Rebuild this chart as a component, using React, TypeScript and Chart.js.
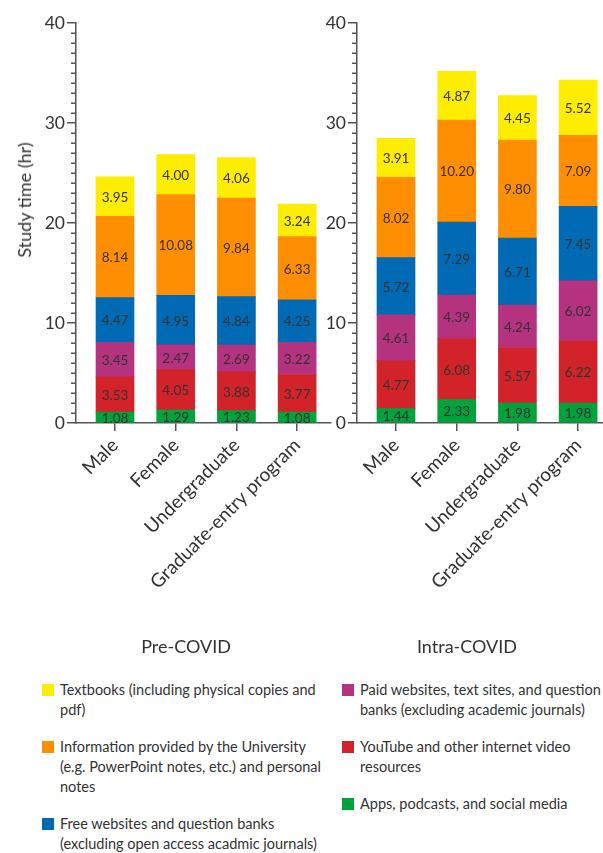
import React, { useEffect, useRef } from "react";
import { Chart, registerables } from "chart.js";

Chart.register(...registerables);

// ---------- data ----------
const categories = ["Male", "Female", "Undergraduate", "Graduate-entry program"];

// series, bottom of stack to top
const seriesNames = [
  "Apps, podcasts, and social media",
  "YouTube and other internet video\nresources",
  "Paid websites, text sites, and question\nbanks (excluding academic journals)",
  "Free websites and question banks\n(excluding open access acadmic journals)",
  "Information provided by the University\n(e.g. PowerPoint notes, etc.) and personal\nnotes",
  "Textbooks (including physical copies and\npdf)",
];
const seriesColors = ["#00A23C", "#D2232A", "#B5327F", "#006AB5", "#FF8F00", "#FFED00"];

const preApps = [1.08, 1.29, 1.23, 1.08];
const preYouTube = [3.53, 4.05, 3.88, 3.77];
const prePaid = [3.45, 2.47, 2.69, 3.22];
const preFree = [4.47, 4.95, 4.84, 4.25];
const preInfo = [8.14, 10.08, 9.84, 6.33];
const preTextbooks = [3.95, 4.0, 4.06, 3.24];

const intraApps = [1.44, 2.33, 1.98, 1.98];
const intraYouTube = [4.77, 6.08, 5.57, 6.22];
const intraPaid = [4.61, 4.39, 4.24, 6.02];
const intraFree = [5.72, 7.29, 6.71, 7.45];
const intraInfo = [8.02, 10.2, 9.8, 7.09];
const intraTextbooks = [3.91, 4.87, 4.45, 5.52];

const preSeries = [preApps, preYouTube, prePaid, preFree, preInfo, preTextbooks];
const intraSeries = [intraApps, intraYouTube, intraPaid, intraFree, intraInfo, intraTextbooks];

const yMin = 0;
const yMax = 40;
const yMajorStep = 10;
const yMinorStep = 1;

const panelTitles = ["Pre-COVID", "Intra-COVID"];
const yAxisTitle = "Study time (hr)";

// legend layout: left column then right column (indices into series)
const legendLeft = [5, 4, 3];
const legendRight = [2, 1, 0];

// ---------- styles ----------
const FONT = "Lato, 'Open Sans', sans-serif";
const TEXT = "#333333";
const AXIS = "#555555";
const CANVAS_H = 640;
const PLOT_TOP = 23;
const PLOT_BOTTOM = 423;

const minorTicksPlugin = {
  id: "minorTicks",
  afterDraw(chart: any) {
    const y = chart.scales.y;
    const ctx = chart.ctx;
    ctx.save();
    ctx.strokeStyle = AXIS;
    ctx.lineWidth = 1.5;
    for (let v = yMin; v <= yMax; v += yMinorStep) {
      if (v % yMajorStep === 0) continue;
      const py = Math.round(y.getPixelForValue(v)) + 0.25;
      ctx.beginPath();
      ctx.moveTo(y.right - 5, py);
      ctx.lineTo(y.right, py);
      ctx.stroke();
    }
    ctx.restore();
  },
};

const valueLabelPlugin = {
  id: "valueLabels",
  afterDatasetsDraw(chart: any) {
    const ctx = chart.ctx;
    ctx.save();
    ctx.font = `13.5px ${FONT}`;
    ctx.fillStyle = TEXT;
    ctx.textAlign = "center";
    ctx.textBaseline = "middle";
    chart.data.datasets.forEach((ds: any, i: number) => {
      const meta = chart.getDatasetMeta(i);
      meta.data.forEach((el: any, j: number) => {
        const p = el.getProps(["x", "y", "base"], true);
        const v = ds.data[j].y;
        ctx.fillText(v.toFixed(2), p.x, (p.y + p.base) / 2 + 1);
      });
    });
    ctx.restore();
  },
};

function makeConfig(series: number[][], xMin: number, xMax: number, yWidth: number, padRight: number): any {
  return {
    type: "bar",
    data: {
      datasets: series.map((vals, i) => ({
        label: seriesNames[i],
        data: vals.map((v, j) => ({ x: j, y: v })),
        backgroundColor: seriesColors[i],
        borderWidth: 0,
        barThickness: 38,
      })),
    },
    options: {
      animation: false,
      responsive: false,
      devicePixelRatio: 1,
      layout: { padding: { top: PLOT_TOP, left: 0, right: padRight, bottom: 0 } },
      plugins: { legend: { display: false }, tooltip: { enabled: false } },
      scales: {
        x: {
          type: "linear",
          stacked: true,
          offset: false,
          min: xMin,
          max: xMax,
          afterBuildTicks: (s: any) => {
            s.ticks = categories.map((_, i) => ({ value: i }));
          },
          afterFit: (s: any) => {
            s.height = CANVAS_H - PLOT_BOTTOM;
          },
          grid: { offset: false, drawOnChartArea: false, drawTicks: true, tickLength: 8, color: AXIS, lineWidth: 1.5 },
          border: { display: true, color: AXIS, width: 1.5 },
          ticks: {
            autoSkip: false,
            maxRotation: 45,
            minRotation: 45,
            padding: 3,
            color: TEXT,
            font: { family: FONT, size: 19 },
            callback: (v: any) => categories[v] ?? "",
          },
        },
        y: {
          stacked: true,
          min: yMin,
          max: yMax,
          afterFit: (s: any) => {
            s.width = yWidth;
          },
          grid: { drawOnChartArea: false, drawTicks: true, tickLength: 9, color: AXIS, lineWidth: 1.5 },
          border: { display: true, color: AXIS, width: 1.5 },
          ticks: {
            stepSize: yMajorStep,
            padding: 2,
            color: TEXT,
            font: { family: FONT, size: 17.5 },
          },
        },
      },
    },
    plugins: [minorTicksPlugin, valueLabelPlugin],
  };
}

function BarPanel(props: { series: number[][]; left: number; width: number; xMin: number; xMax: number; yWidth: number; padRight: number }) {
  const ref = useRef<HTMLCanvasElement | null>(null);
  useEffect(() => {
    if (!ref.current) return;
    const chart = new Chart(ref.current, makeConfig(props.series, props.xMin, props.xMax, props.yWidth, props.padRight));
    return () => chart.destroy();
  }, []);
  return (
    <canvas
      ref={ref}
      width={props.width}
      height={CANVAS_H}
      style={{ position: "absolute", left: props.left, top: 0, width: props.width, height: CANVAS_H }}
    />
  );
}

function LegendColumn(props: { items: number[]; left: number }) {
  return (
    <div style={{ position: "absolute", left: props.left, top: 680 }}>
      {props.items.map((idx) => (
        <div key={idx} style={{ display: "flex", alignItems: "flex-start", marginBottom: 17 }}>
          <div style={{ width: 12, height: 12, marginTop: 4, marginRight: 6, background: seriesColors[idx], flex: "none" }} />
          <div style={{ whiteSpace: "pre", lineHeight: "20px", fontSize: 14.5, color: TEXT, fontFamily: FONT }}>
            {seriesNames[idx]}
          </div>
        </div>
      ))}
    </div>
  );
}

export default function App() {
  return (
    <div style={{ position: "absolute", left: 0, top: 0, width: 603, height: 853, background: "#fff", overflow: "hidden", fontFamily: FONT }}>
      <BarPanel series={preSeries} left={0} width={332} xMin={-0.6425} xMax={3.558} yWidth={76} padRight={1} />
      <BarPanel series={intraSeries} left={300} width={303} xMin={-0.6425} xMax={3.41} yWidth={57} padRight={0} />
      <div
        style={{
          position: "absolute",
          left: 24,
          top: 200,
          transform: "translate(-50%, -50%) rotate(-90deg)",
          whiteSpace: "nowrap",
          fontSize: 18,
          color: TEXT,
        }}
      >
        {yAxisTitle}
      </div>
      {panelTitles.map((t, i) => (
        <div
          key={t}
          style={{
            position: "absolute",
            left: i === 0 ? 186 : 467,
            top: 646,
            transform: "translate(-50%, -50%)",
            whiteSpace: "nowrap",
            fontSize: 18,
            color: TEXT,
          }}
        >
          {t}
        </div>
      ))}
      <LegendColumn items={legendLeft} left={42} />
      <LegendColumn items={legendRight} left={342} />
    </div>
  );
}
